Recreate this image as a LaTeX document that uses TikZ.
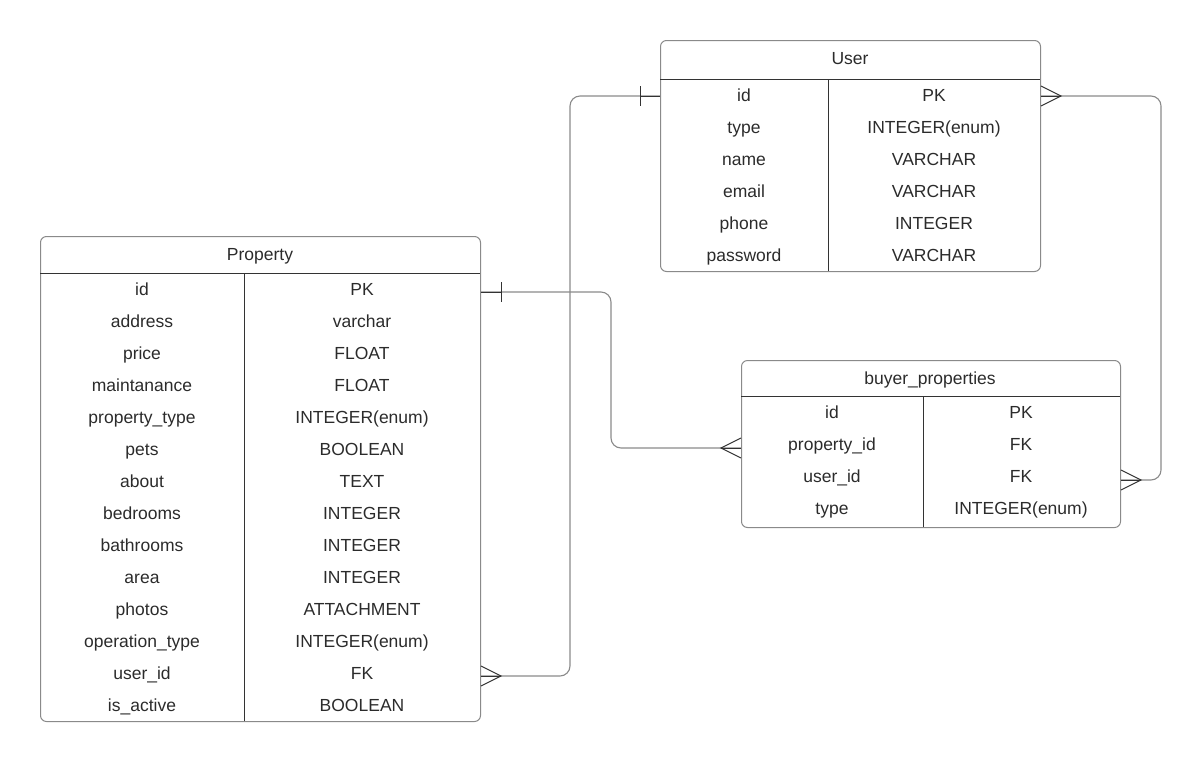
\documentclass[tikz,border=0pt]{standalone}
\usepackage{fontspec}
\setmainfont{Liberation Sans}
\usetikzlibrary{calc}
\definecolor{tblgray}{HTML}{8A8A8A}
\definecolor{inkdark}{HTML}{333333}
\definecolor{txtdark}{HTML}{2B2B2B}
\tikzset{
  tbl/.style={draw=tblgray, line width=1pt, rounded corners=6pt, anchor=north west, inner sep=0},
  cell/.style={font=\fontsize{17.5}{20}\selectfont, text=txtdark, inner sep=0pt, text height=12.5pt, text depth=0pt},
  rule/.style={draw=inkdark, line width=0.9pt},
  link/.style={draw=tblgray, line width=1.1pt, rounded corners=10pt},
  crowline/.style={draw=inkdark, line width=1pt}
}

\begin{document}
\begin{tikzpicture}[x=1pt,y=-1pt]
\useasboundingbox (0,0) rectangle (1202,764);

% User table
\node[tbl, minimum width=380pt, minimum height=231pt] (user) at (660,40) {};
\node[cell] (user-head) at (850,58) {User};
\draw[rule] (660,79)--(1040,79);
\draw[rule] (828,79)--(828,271);
\foreach \k/\t [count=\i] in {id/PK, type/INTEGER(enum), name/VARCHAR, email/VARCHAR, phone/INTEGER, password/VARCHAR} {
 \node[cell] (user-\i) at (744,{79+32*\i-16}) {\k};
 \node[cell] (user-\i-t) at (934,{79+32*\i-16}) {\t};
}

% Property table
\node[tbl, minimum width=440pt, minimum height=485pt] (prop) at (40,236) {};
\node[cell] (prop-head) at (260,254) {Property};
\draw[rule] (40,273)--(480,273);
\draw[rule] (244,273)--(244,721);
\foreach \k/\t [count=\i] in {id/PK, address/varchar, price/FLOAT, maintanance/FLOAT, property\_type/INTEGER(enum), pets/BOOLEAN, about/TEXT, bedrooms/INTEGER, bathrooms/INTEGER, area/INTEGER, photos/ATTACHMENT, operation\_type/INTEGER(enum), user\_id/FK, is\_active/BOOLEAN} {
 \node[cell] (prop-\i) at (142,{273+32*\i-16}) {\k};
 \node[cell] (prop-\i-t) at (362,{273+32*\i-16}) {\t};
}

% buyer_properties table
\node[tbl, minimum width=379pt, minimum height=167pt] (buyer) at (741,360) {};
\node[cell] (buyer-head) at (930,378) {buyer\_properties};
\draw[rule] (741,396)--(1120,396);
\draw[rule] (923,396)--(923,527);
\foreach \k/\t [count=\i] in {id/PK, property\_id/FK, user\_id/FK, type/INTEGER(enum)} {
 \node[cell] (buyer-\i) at (832,{396+32*\i-16}) {\k};
 \node[cell] (buyer-\i-t) at (1021,{396+32*\i-16}) {\t};
}

% links
\coordinate (u-l) at ($(user-1 -| user.west)+(0,1)$);
\coordinate (u-r) at ($(user-1 -| user.east)+(0,1)$);
\coordinate (p-id) at ($(prop-1 -| prop.east)+(0,3)$);
\coordinate (p-uid) at ($(prop-13 -| prop.east)+(0,3)$);
\coordinate (b-pid) at ($(buyer-2 -| buyer.west)+(0,4)$);
\coordinate (b-uid) at ($(buyer-3 -| buyer.east)+(0,4)$);

\draw[link] (u-l) -- ++(-90,0) |- (p-uid);
\draw[link] (u-r) -- ++(120,0) |- (b-uid);
\draw[link] (p-id) -- ++(130,0) |- (b-pid);

% one ends
\draw[crowline] ($(u-l)+(-20,-10)$) -- ++(0,20);
\draw[crowline] ($(p-id)+(20,-10)$) -- ++(0,20);
\draw[crowline] (u-l) -- ++(-20,0);
\draw[crowline] (p-id) -- ++(20,0);

% many ends
\foreach \p/\d in {p-uid/20, u-r/20, b-uid/20, b-pid/-20} {
 \draw[crowline] ($(\p)+(0,-10)$) -- ($(\p)+(\d,0)$) -- ($(\p)+(0,10)$);
 \draw[crowline] (\p) -- ++(\d,0);
}
\end{tikzpicture}
\end{document}
